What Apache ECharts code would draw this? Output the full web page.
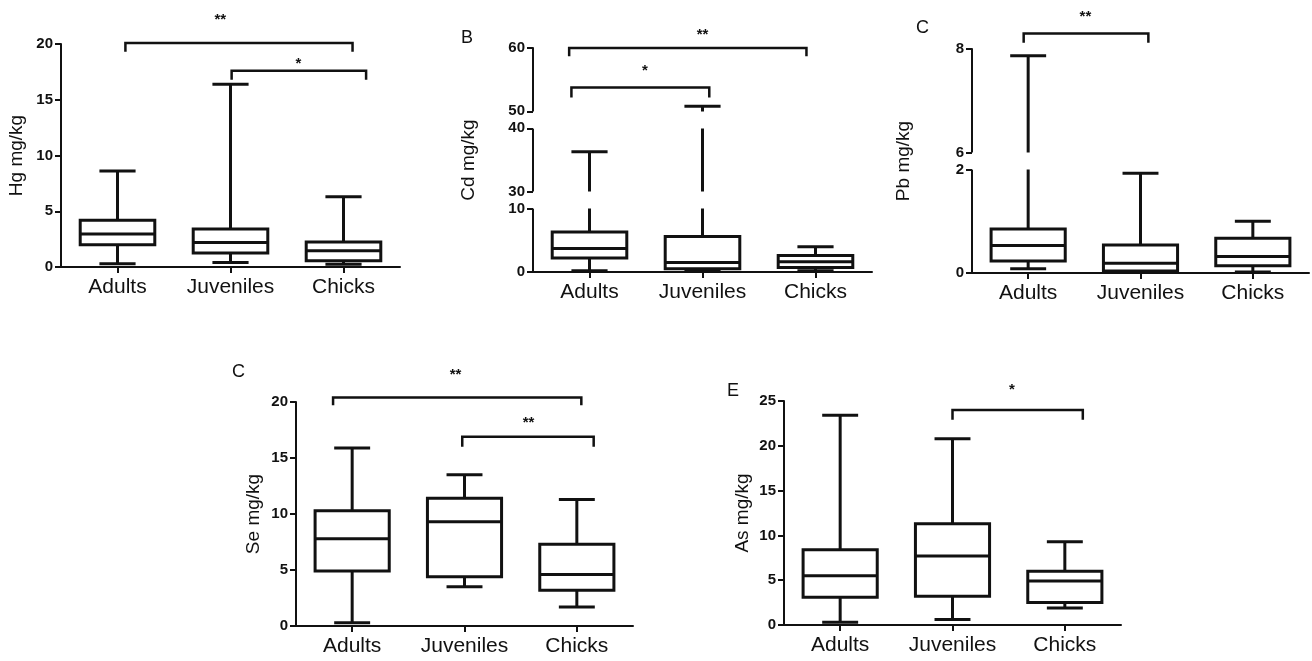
<!DOCTYPE html>
<html>
<head>
<meta charset="utf-8">
<script src="https://cdn.jsdelivr.net/npm/echarts@6/dist/echarts.min.js"></script>
<style>
  html, body { margin: 0; padding: 0; background: #fff; }
  #show_picture { width: 1312px; height: 661px; }
</style>
</head>
<body>
<div id="show_picture"></div>
<script>
const categories = ['Adults', 'Juveniles', 'Chicks'];

// [min, Q1, median, Q3, max] per category
const hgBoxes = [[0.3, 2.0, 2.95, 4.2, 8.6], [0.4, 1.25, 2.2, 3.4, 16.4], [0.25, 0.55, 1.45, 2.25, 6.3]];
const cdBoxes = [[0.2, 2.2, 3.7, 6.3, 36.3], [0.2, 0.5, 1.5, 5.6, 50.8], [0.2, 0.7, 1.6, 2.6, 4.0]];
const pbBoxes = [[0.08, 0.23, 0.53, 0.85, 7.87], [0.02, 0.04, 0.19, 0.54, 1.93], [0.02, 0.14, 0.32, 0.67, 1.0]];
const seBoxes = [[0.3, 4.9, 7.8, 10.3, 15.9], [3.5, 4.4, 9.3, 11.4, 13.5], [1.7, 3.2, 4.6, 7.3, 11.3]];
const asBoxes = [[0.3, 3.1, 5.5, 8.4, 23.4], [0.6, 3.2, 7.7, 11.3, 20.8], [1.9, 2.5, 4.9, 6.0, 9.3]];

// significance brackets: [left, right, top, leg end, label x, label y]
const hgBrackets = [[0.07, 2.08, 20.1, 19.3, 0.91, 22.4], [1.01, 2.2, 17.6, 16.8, 1.6, 18.5]];
const hgStars = ['**', '*'];
const cdBrackets = [[-0.18, 1.92, 60, 58.7, 1.0, 62.5], [-0.16, 1.06, 53.75, 52.2, 0.49, 56.9]];
const cdStars = ['**', '*'];
const pbBrackets = [[-0.04, 1.07, 8.3, 8.12, 0.51, 8.67]];
const pbStars = ['**'];
const seBrackets = [[-0.17, 2.04, 20.4, 19.7, 0.92, 22.7], [0.98, 2.15, 16.9, 16.0, 1.57, 18.4]];
const seStars = ['**', '**'];
const asBrackets = [[1.0, 2.16, 24.0, 22.9, 1.53, 26.6]];
const asStars = ['*'];

const font = 'Liberation Sans, Arial, sans-serif';
const ink = '#111';

let myChart = echarts.init(document.getElementById('show_picture'));

function renderBox(params, api) {
    const x = api.value(0);
    const band = api.size([1, 0])[0];
    const half = band * 0.33;
    const capHalf = band * 0.16;
    const pMin = api.coord([x, api.value(1)]);
    const pQ1 = api.coord([x, api.value(2)]);
    const pMed = api.coord([x, api.value(3)]);
    const pQ3 = api.coord([x, api.value(4)]);
    const pMax = api.coord([x, api.value(5)]);
    const cx = pMin[0];
    const st = { stroke: ink, lineWidth: 3, fill: null };
    return {
        type: 'group',
        children: [
            { type: 'line', shape: { x1: cx, y1: pQ3[1], x2: cx, y2: pMax[1] }, style: st },
            { type: 'line', shape: { x1: cx, y1: pMin[1], x2: cx, y2: pQ1[1] }, style: st },
            { type: 'line', shape: { x1: cx - capHalf, y1: pMax[1], x2: cx + capHalf, y2: pMax[1] }, style: st },
            { type: 'line', shape: { x1: cx - capHalf, y1: pMin[1], x2: cx + capHalf, y2: pMin[1] }, style: st },
            { type: 'rect', shape: { x: cx - half, y: pQ3[1], width: half * 2, height: pQ1[1] - pQ3[1] },
              style: { stroke: ink, lineWidth: 3, fill: '#fff' } },
            { type: 'line', shape: { x1: cx - half, y1: pMed[1], x2: cx + half, y2: pMed[1] }, style: st }
        ]
    };
}

function bracketRenderer(stars) {
    return function (params, api) {
        const l = api.coord([api.value(0), api.value(2)]);
        const r = api.coord([api.value(1), api.value(2)]);
        const lb = api.coord([api.value(0), api.value(3)]);
        const t = api.coord([api.value(4), api.value(5)]);
        return {
            type: 'group',
            children: [
                { type: 'polyline', shape: { points: [[l[0], lb[1]], l, r, [r[0], lb[1]]] },
                  style: { stroke: ink, lineWidth: 2.5, fill: null, lineJoin: 'miter' } },
                { type: 'text', x: t[0], y: t[1] + 3,
                  style: { text: stars[params.dataIndex], fill: ink, fontSize: 15, fontWeight: 'bold',
                           fontFamily: font, align: 'center', verticalAlign: 'middle' } }
            ]
        };
    };
}

const panels = [
    { name: 'Hg mg/kg', boxes: hgBoxes, brackets: hgBrackets, stars: hgStars, min: 0, max: 20, interval: 5,
      grid: { left: 61, top: 44, width: 339, height: 223 }, nameGap: 35 },
    { name: 'Cd mg/kg', boxes: cdBoxes, brackets: cdBrackets, stars: cdStars, min: 0, max: 60, interval: 10,
      grid: { left: 533, top: 48, width: 339, height: 224 }, nameGap: 55,
      breaks: [{ start: 10, end: 30, gap: '7.6%' }, { start: 40, end: 50, gap: '7.6%' }] },
    { name: 'Pb mg/kg', boxes: pbBoxes, brackets: pbBrackets, stars: pbStars, min: 0, max: 8, interval: 2,
      grid: { left: 972, top: 49, width: 337, height: 224 }, nameGap: 59,
      breaks: [{ start: 2, end: 6, gap: '7.6%' }] },
    { name: 'Se mg/kg', boxes: seBoxes, brackets: seBrackets, stars: seStars, min: 0, max: 20, interval: 5,
      grid: { left: 296, top: 402, width: 337, height: 224 }, nameGap: 33 },
    { name: 'As mg/kg', boxes: asBoxes, brackets: asBrackets, stars: asStars, min: 0, max: 25, interval: 5,
      grid: { left: 784, top: 401, width: 337, height: 224 }, nameGap: 32 }
];

let grids = [], xAxes = [], yAxes = [], series = [];
panels.forEach((p, i) => {
    grids.push(p.grid);
    xAxes.push({
        type: 'category', gridIndex: i, data: categories, boundaryGap: true,
        axisLine: { show: true, onZero: false, lineStyle: { color: ink, width: 2 } },
        axisTick: { show: true, alignWithLabel: true, length: 6, lineStyle: { color: ink, width: 2 } },
        axisLabel: { interval: 0, fontSize: 21, color: ink, fontFamily: font, margin: 10 },
        splitLine: { show: false }
    });
    xAxes.push({ type: 'value', gridIndex: i, min: -0.5, max: 2.5, show: false });
    let y = {
        type: 'value', gridIndex: i, min: p.min, max: p.max, interval: p.interval,
        name: p.name, nameLocation: 'middle', nameGap: p.nameGap, nameRotate: 90,
        nameTextStyle: { fontSize: 19, color: ink, fontFamily: font },
        axisLine: { show: true, onZero: false, lineStyle: { color: ink, width: 2 } },
        axisTick: { show: true, length: 6, lineStyle: { color: ink, width: 2 } },
        axisLabel: { fontSize: 15, fontWeight: 'bold', color: ink, fontFamily: font, margin: 8 },
        splitLine: { show: false }
    };
    if (p.breaks) {
        y.breaks = p.breaks;
        y.breakArea = {
            show: true,
            itemStyle: { color: '#fff', borderColor: '#fff', borderWidth: 0, opacity: 1 },
            zigzagAmplitude: 0,
            expandOnClick: false
        };
    }
    yAxes.push(y);
    series.push({
        type: 'custom', xAxisIndex: i * 2, yAxisIndex: i,
        renderItem: renderBox,
        encode: { x: 0, y: [1, 2, 3, 4, 5] },
        data: p.boxes.map((b, k) => [k].concat(b))
    });
    series.push({
        type: 'custom', xAxisIndex: i * 2 + 1, yAxisIndex: i,
        renderItem: bracketRenderer(p.stars),
        encode: { x: [0, 1], y: [2, 3] },
        data: p.brackets
    });
});

const option = {
    backgroundColor: '#fff',
    animation: false,
    textStyle: { fontFamily: font },
    grid: grids,
    xAxis: xAxes,
    yAxis: yAxes,
    series: series,
    graphic: [
        { type: 'text', left: 461, top: 29, style: { text: 'B', fontSize: 18, fill: ink, fontFamily: font } },
        { type: 'text', left: 916, top: 19, style: { text: 'C', fontSize: 18, fill: ink, fontFamily: font } },
        { type: 'text', left: 232, top: 363, style: { text: 'C', fontSize: 18, fill: ink, fontFamily: font } },
        { type: 'text', left: 727, top: 382, style: { text: 'E', fontSize: 18, fill: ink, fontFamily: font } }
    ]
};

option && myChart.setOption(option);
</script>
</body>
</html>
